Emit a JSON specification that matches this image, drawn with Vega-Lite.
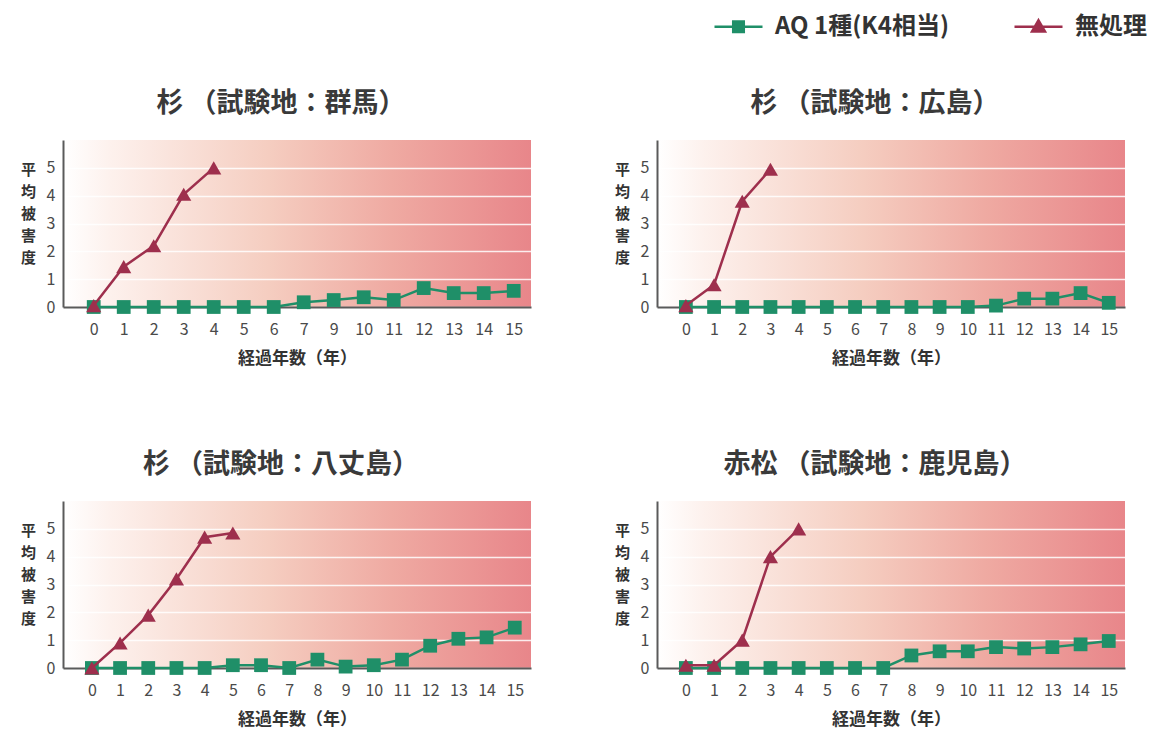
{
  "$schema": "https://vega.github.io/schema/vega-lite/v6.json",
  "background": "#ffffff",
  "padding": {"left": 20, "top": 1, "right": 0, "bottom": 8},
  "datasets": {
    "gunma": [
      {"year": 0, "damage": 0, "series": "AQ 1種(K4相当)"},
      {"year": 1, "damage": 0, "series": "AQ 1種(K4相当)"},
      {"year": 2, "damage": 0, "series": "AQ 1種(K4相当)"},
      {"year": 3, "damage": 0, "series": "AQ 1種(K4相当)"},
      {"year": 4, "damage": 0, "series": "AQ 1種(K4相当)"},
      {"year": 5, "damage": 0, "series": "AQ 1種(K4相当)"},
      {"year": 6, "damage": 0, "series": "AQ 1種(K4相当)"},
      {"year": 7, "damage": 0.17, "series": "AQ 1種(K4相当)"},
      {"year": 9, "damage": 0.25, "series": "AQ 1種(K4相当)"},
      {"year": 10, "damage": 0.35, "series": "AQ 1種(K4相当)"},
      {"year": 11, "damage": 0.25, "series": "AQ 1種(K4相当)"},
      {"year": 12, "damage": 0.68, "series": "AQ 1種(K4相当)"},
      {"year": 13, "damage": 0.5, "series": "AQ 1種(K4相当)"},
      {"year": 14, "damage": 0.5, "series": "AQ 1種(K4相当)"},
      {"year": 15, "damage": 0.58, "series": "AQ 1種(K4相当)"},
      {"year": 0, "damage": 0.05, "series": "無処理"},
      {"year": 1, "damage": 1.45, "series": "無処理"},
      {"year": 2, "damage": 2.2, "series": "無処理"},
      {"year": 3, "damage": 4.05, "series": "無処理"},
      {"year": 4, "damage": 5.0, "series": "無処理"}
    ],
    "hiroshima": [
      {"year": 0, "damage": 0, "series": "AQ 1種(K4相当)"},
      {"year": 1, "damage": 0, "series": "AQ 1種(K4相当)"},
      {"year": 2, "damage": 0, "series": "AQ 1種(K4相当)"},
      {"year": 3, "damage": 0, "series": "AQ 1種(K4相当)"},
      {"year": 4, "damage": 0, "series": "AQ 1種(K4相当)"},
      {"year": 5, "damage": 0, "series": "AQ 1種(K4相当)"},
      {"year": 6, "damage": 0, "series": "AQ 1種(K4相当)"},
      {"year": 7, "damage": 0, "series": "AQ 1種(K4相当)"},
      {"year": 8, "damage": 0, "series": "AQ 1種(K4相当)"},
      {"year": 9, "damage": 0, "series": "AQ 1種(K4相当)"},
      {"year": 10, "damage": 0, "series": "AQ 1種(K4相当)"},
      {"year": 11, "damage": 0.05, "series": "AQ 1種(K4相当)"},
      {"year": 12, "damage": 0.3, "series": "AQ 1種(K4相当)"},
      {"year": 13, "damage": 0.3, "series": "AQ 1種(K4相当)"},
      {"year": 14, "damage": 0.5, "series": "AQ 1種(K4相当)"},
      {"year": 15, "damage": 0.15, "series": "AQ 1種(K4相当)"},
      {"year": 0, "damage": 0.05, "series": "無処理"},
      {"year": 1, "damage": 0.8, "series": "無処理"},
      {"year": 2, "damage": 3.8, "series": "無処理"},
      {"year": 3, "damage": 4.95, "series": "無処理"}
    ],
    "hachijo": [
      {"year": 0, "damage": 0, "series": "AQ 1種(K4相当)"},
      {"year": 1, "damage": 0, "series": "AQ 1種(K4相当)"},
      {"year": 2, "damage": 0, "series": "AQ 1種(K4相当)"},
      {"year": 3, "damage": 0, "series": "AQ 1種(K4相当)"},
      {"year": 4, "damage": 0, "series": "AQ 1種(K4相当)"},
      {"year": 5, "damage": 0.1, "series": "AQ 1種(K4相当)"},
      {"year": 6, "damage": 0.1, "series": "AQ 1種(K4相当)"},
      {"year": 7, "damage": 0, "series": "AQ 1種(K4相当)"},
      {"year": 8, "damage": 0.3, "series": "AQ 1種(K4相当)"},
      {"year": 9, "damage": 0.05, "series": "AQ 1種(K4相当)"},
      {"year": 10, "damage": 0.1, "series": "AQ 1種(K4相当)"},
      {"year": 11, "damage": 0.3, "series": "AQ 1種(K4相当)"},
      {"year": 12, "damage": 0.8, "series": "AQ 1種(K4相当)"},
      {"year": 13, "damage": 1.05, "series": "AQ 1種(K4相当)"},
      {"year": 14, "damage": 1.1, "series": "AQ 1種(K4相当)"},
      {"year": 15, "damage": 1.45, "series": "AQ 1種(K4相当)"},
      {"year": 0, "damage": 0, "series": "無処理"},
      {"year": 1, "damage": 0.9, "series": "無処理"},
      {"year": 2, "damage": 1.9, "series": "無処理"},
      {"year": 3, "damage": 3.2, "series": "無処理"},
      {"year": 4, "damage": 4.7, "series": "無処理"},
      {"year": 5, "damage": 4.85, "series": "無処理"}
    ],
    "kagoshima": [
      {"year": 0, "damage": 0, "series": "AQ 1種(K4相当)"},
      {"year": 1, "damage": 0, "series": "AQ 1種(K4相当)"},
      {"year": 2, "damage": 0, "series": "AQ 1種(K4相当)"},
      {"year": 3, "damage": 0, "series": "AQ 1種(K4相当)"},
      {"year": 4, "damage": 0, "series": "AQ 1種(K4相当)"},
      {"year": 5, "damage": 0, "series": "AQ 1種(K4相当)"},
      {"year": 6, "damage": 0, "series": "AQ 1種(K4相当)"},
      {"year": 7, "damage": 0, "series": "AQ 1種(K4相当)"},
      {"year": 8, "damage": 0.45, "series": "AQ 1種(K4相当)"},
      {"year": 9, "damage": 0.6, "series": "AQ 1種(K4相当)"},
      {"year": 10, "damage": 0.6, "series": "AQ 1種(K4相当)"},
      {"year": 11, "damage": 0.75, "series": "AQ 1種(K4相当)"},
      {"year": 12, "damage": 0.7, "series": "AQ 1種(K4相当)"},
      {"year": 13, "damage": 0.75, "series": "AQ 1種(K4相当)"},
      {"year": 14, "damage": 0.85, "series": "AQ 1種(K4相当)"},
      {"year": 15, "damage": 0.97, "series": "AQ 1種(K4相当)"},
      {"year": 0, "damage": 0.1, "series": "無処理"},
      {"year": 1, "damage": 0.1, "series": "無処理"},
      {"year": 2, "damage": 1.0, "series": "無処理"},
      {"year": 3, "damage": 4.0, "series": "無処理"},
      {"year": 4, "damage": 5.0, "series": "無処理"}
    ]
  },
  "config": {
    "font": "Noto Sans CJK JP",
    "view": {
      "stroke": null,
      "fill": {
        "gradient": "linear", "x1": 0, "y1": 0, "x2": 1, "y2": 0,
        "stops": [
          {"offset": 0, "color": "#ffffff"},
          {"offset": 0.1, "color": "#fdf1ed"},
          {"offset": 0.44, "color": "#f5cdc0"},
          {"offset": 0.7, "color": "#efaaa2"},
          {"offset": 1, "color": "#e8868a"}
        ]
      }
    },
    "title": {"fontSize": 27, "fontWeight": "bold", "color": "#3a3a3a", "offset": 22, "anchor": "middle", "dx": -16},
    "axis": {"labelFontSize": 16, "labelColor": "#4a4a4a", "titleFontWeight": "bold", "titleColor": "#333333", "domainColor": "#5a5a5a", "domainWidth": 2, "ticks": false},
    "axisX": {"labelAngle": 0, "labelPadding": 14, "titlePadding": 13, "titleFontSize": 17, "grid": false},
    "axisY": {"labelPadding": 8, "titleFontSize": 15, "titleAngle": 0, "titleX": -35, "titleY": 22, "titleAlign": "center", "titleBaseline": "top", "titleLineHeight": 22, "gridColor": "#ffffff", "gridWidth": 1.5, "gridOpacity": 0.85}
  },
  "spacing": 85,
  "vconcat": [
    {
      "spacing": 83,
      "hconcat": [
        {
          "title": "杉 （試験地：群馬）",
          "width": 468, "height": 167,
          "data": {"name": "gunma"},
          "encoding": {
            "x": {"field": "year", "type": "ordinal", "title": "経過年数（年）", "scale": {"type": "point", "padding": 0.8, "align": 0.64}},
            "y": {"field": "damage", "type": "quantitative", "title": ["平", "均", "被", "害", "度"], "scale": {"domain": [0, 6], "nice": false}, "axis": {"values": [0, 1, 2, 3, 4, 5]}},
            "color": {"field": "series", "type": "nominal", "scale": {"domain": ["AQ 1種(K4相当)", "無処理"], "range": ["#1f8f68", "#9e2f4d"]},
              "legend": {"orient": "none", "legendX": 650, "legendY": -139, "direction": "horizontal", "title": null, "labelFontSize": 24, "labelFontWeight": "bold", "labelColor": "#333333", "labelLimit": 400, "symbolSize": 2304, "labelOffset": 11, "columnPadding": 60,
                "encode": {"symbols": {"update": {
                  "shape": {"signal": "datum.value === '無処理' ? 'M-1,0H1M0,-0.27L0.27,0.2H-0.27Z' : 'M-1,0H1M-0.22,-0.22H0.22V0.22H-0.22Z'"},
                  "fill": {"scale": "color", "field": "value"},
                  "stroke": {"scale": "color", "field": "value"},
                  "strokeWidth": {"value": 2.5},
                  "opacity": {"value": 1}
                }}}}
            }
          },
          "layer": [
            {"transform": [{"filter": "datum.series === 'AQ 1種(K4相当)'"}], "mark": {"type": "line", "strokeWidth": 2.5}},
            {"transform": [{"filter": "datum.series === 'AQ 1種(K4相当)'"}], "mark": {"type": "point", "shape": "square", "filled": true, "size": 190, "opacity": 1}},
            {"transform": [{"filter": "datum.series === '無処理'"}], "mark": {"type": "line", "strokeWidth": 2.5}},
            {"transform": [{"filter": "datum.series === '無処理'"}], "mark": {"type": "point", "shape": "triangle-up", "filled": true, "size": 230, "opacity": 1}}
          ]
        },
        {
          "title": "杉 （試験地：広島）",
          "width": 468, "height": 167,
          "data": {"name": "hiroshima"},
          "encoding": {
            "x": {"field": "year", "type": "ordinal", "title": "経過年数（年）", "scale": {"type": "point", "padding": 0.8, "align": 0.64}},
            "y": {"field": "damage", "type": "quantitative", "title": ["平", "均", "被", "害", "度"], "scale": {"domain": [0, 6], "nice": false}, "axis": {"values": [0, 1, 2, 3, 4, 5]}},
            "color": {"field": "series", "type": "nominal", "scale": {"domain": ["AQ 1種(K4相当)", "無処理"], "range": ["#1f8f68", "#9e2f4d"]},
              "legend": {"orient": "none", "legendX": 650, "legendY": -139, "direction": "horizontal", "title": null, "labelFontSize": 24, "labelFontWeight": "bold", "labelColor": "#333333", "labelLimit": 400, "symbolSize": 2304, "labelOffset": 11, "columnPadding": 60,
                "encode": {"symbols": {"update": {
                  "shape": {"signal": "datum.value === '無処理' ? 'M-1,0H1M0,-0.27L0.27,0.2H-0.27Z' : 'M-1,0H1M-0.22,-0.22H0.22V0.22H-0.22Z'"},
                  "fill": {"scale": "color", "field": "value"},
                  "stroke": {"scale": "color", "field": "value"},
                  "strokeWidth": {"value": 2.5},
                  "opacity": {"value": 1}
                }}}}
            }
          },
          "layer": [
            {"transform": [{"filter": "datum.series === 'AQ 1種(K4相当)'"}], "mark": {"type": "line", "strokeWidth": 2.5}},
            {"transform": [{"filter": "datum.series === 'AQ 1種(K4相当)'"}], "mark": {"type": "point", "shape": "square", "filled": true, "size": 190, "opacity": 1}},
            {"transform": [{"filter": "datum.series === '無処理'"}], "mark": {"type": "line", "strokeWidth": 2.5}},
            {"transform": [{"filter": "datum.series === '無処理'"}], "mark": {"type": "point", "shape": "triangle-up", "filled": true, "size": 230, "opacity": 1}}
          ]
        }
      ]
    },
    {
      "spacing": 83,
      "hconcat": [
        {
          "title": "杉 （試験地：八丈島）",
          "width": 468, "height": 167,
          "data": {"name": "hachijo"},
          "encoding": {
            "x": {"field": "year", "type": "ordinal", "title": "経過年数（年）", "scale": {"type": "point", "padding": 0.8, "align": 0.64}},
            "y": {"field": "damage", "type": "quantitative", "title": ["平", "均", "被", "害", "度"], "scale": {"domain": [0, 6], "nice": false}, "axis": {"values": [0, 1, 2, 3, 4, 5]}},
            "color": {"field": "series", "type": "nominal", "scale": {"domain": ["AQ 1種(K4相当)", "無処理"], "range": ["#1f8f68", "#9e2f4d"]},
              "legend": {"orient": "none", "legendX": 650, "legendY": -139, "direction": "horizontal", "title": null, "labelFontSize": 24, "labelFontWeight": "bold", "labelColor": "#333333", "labelLimit": 400, "symbolSize": 2304, "labelOffset": 11, "columnPadding": 60,
                "encode": {"symbols": {"update": {
                  "shape": {"signal": "datum.value === '無処理' ? 'M-1,0H1M0,-0.27L0.27,0.2H-0.27Z' : 'M-1,0H1M-0.22,-0.22H0.22V0.22H-0.22Z'"},
                  "fill": {"scale": "color", "field": "value"},
                  "stroke": {"scale": "color", "field": "value"},
                  "strokeWidth": {"value": 2.5},
                  "opacity": {"value": 1}
                }}}}
            }
          },
          "layer": [
            {"transform": [{"filter": "datum.series === 'AQ 1種(K4相当)'"}], "mark": {"type": "line", "strokeWidth": 2.5}},
            {"transform": [{"filter": "datum.series === 'AQ 1種(K4相当)'"}], "mark": {"type": "point", "shape": "square", "filled": true, "size": 190, "opacity": 1}},
            {"transform": [{"filter": "datum.series === '無処理'"}], "mark": {"type": "line", "strokeWidth": 2.5}},
            {"transform": [{"filter": "datum.series === '無処理'"}], "mark": {"type": "point", "shape": "triangle-up", "filled": true, "size": 230, "opacity": 1}}
          ]
        },
        {
          "title": "赤松 （試験地：鹿児島）",
          "width": 468, "height": 167,
          "data": {"name": "kagoshima"},
          "encoding": {
            "x": {"field": "year", "type": "ordinal", "title": "経過年数（年）", "scale": {"type": "point", "padding": 0.8, "align": 0.64}},
            "y": {"field": "damage", "type": "quantitative", "title": ["平", "均", "被", "害", "度"], "scale": {"domain": [0, 6], "nice": false}, "axis": {"values": [0, 1, 2, 3, 4, 5]}},
            "color": {"field": "series", "type": "nominal", "scale": {"domain": ["AQ 1種(K4相当)", "無処理"], "range": ["#1f8f68", "#9e2f4d"]},
              "legend": {"orient": "none", "legendX": 650, "legendY": -139, "direction": "horizontal", "title": null, "labelFontSize": 24, "labelFontWeight": "bold", "labelColor": "#333333", "labelLimit": 400, "symbolSize": 2304, "labelOffset": 11, "columnPadding": 60,
                "encode": {"symbols": {"update": {
                  "shape": {"signal": "datum.value === '無処理' ? 'M-1,0H1M0,-0.27L0.27,0.2H-0.27Z' : 'M-1,0H1M-0.22,-0.22H0.22V0.22H-0.22Z'"},
                  "fill": {"scale": "color", "field": "value"},
                  "stroke": {"scale": "color", "field": "value"},
                  "strokeWidth": {"value": 2.5},
                  "opacity": {"value": 1}
                }}}}
            }
          },
          "layer": [
            {"transform": [{"filter": "datum.series === 'AQ 1種(K4相当)'"}], "mark": {"type": "line", "strokeWidth": 2.5}},
            {"transform": [{"filter": "datum.series === 'AQ 1種(K4相当)'"}], "mark": {"type": "point", "shape": "square", "filled": true, "size": 190, "opacity": 1}},
            {"transform": [{"filter": "datum.series === '無処理'"}], "mark": {"type": "line", "strokeWidth": 2.5}},
            {"transform": [{"filter": "datum.series === '無処理'"}], "mark": {"type": "point", "shape": "triangle-up", "filled": true, "size": 230, "opacity": 1}}
          ]
        }
      ]
    }
  ]
}
